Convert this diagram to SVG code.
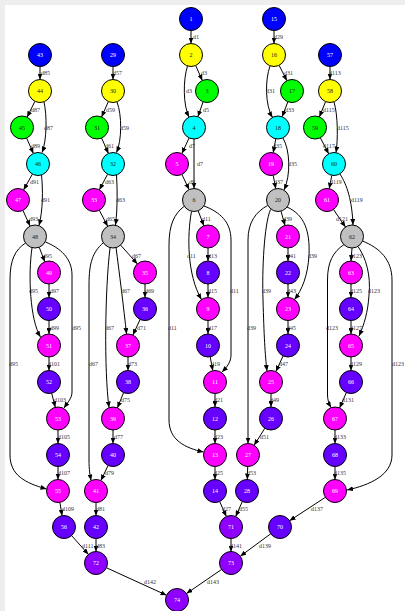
<svg xmlns="http://www.w3.org/2000/svg" width="405" height="611" viewBox="0 0 405 611">
<style>
  .node circle { stroke: #000; stroke-width: 1; }
  .blue { fill: #0000ff; }
  .yel { fill: #ffff00; }
  .grn { fill: #00ff00; }
  .cyan { fill: #00ffff; }
  .mag { fill: #ff00ff; }
  .gry { fill: #c0c0c0; }
  .vio { fill: #6600ff; }
  .pur { fill: #9000ff; }
  .node text { font-family: "Liberation Serif", "Times New Roman", serif; font-size: 6px; text-anchor: middle; }
  .lt { fill: #ffffff; }
  .dk { fill: #222222; }
  .edges path { fill: none; stroke: #000; stroke-width: 1; marker-end: url(#arr); }
  .lbl text { font-family: "Liberation Serif", "Times New Roman", serif; font-size: 6px; fill: #333333; }
</style>
<defs>
  <marker id="arr" markerUnits="userSpaceOnUse" markerWidth="6" markerHeight="5" refX="6" refY="2.5" orient="auto">
    <path d="M0,0 L6,2.5 L0,5 z" fill="#000"/>
  </marker>
</defs>
<rect x="0" y="0" width="405" height="611" fill="#eeeeee"/>
<rect x="5" y="5" width="400" height="606" fill="#ffffff"/>

<g class="edges">
  <!-- column 1..14 -->
  <path d="M191,30.5 L191,43.5"/>
  <path d="M195.7,65.5 L202.3,80.5"/>
  <path d="M187.5,66 C183,80 183,105 189,117"/>
  <path d="M203.1,101.8 L197.9,116.7"/>
  <path d="M189.1,137.9 L181.9,153.6"/>
  <path d="M194,139 L194,188.5"/>
  <path d="M181.9,174.4 L189.1,189.6"/>
  <path d="M198.1,210.7 L203.9,225.8"/>
  <path d="M191.5,211.5 C187,235 187,275 201.5,299.5"/>
  <path d="M204,206 C220,212 231,222 231,240 L231,355 C231,362 227,367 222,372"/>
  <path d="M184.5,206 C174,214 169,225 169,245 L169,420 C169,440 185,448 203.5,452"/>
  <path d="M208,248 L208,261"/>
  <path d="M208,284 L208,297.5"/>
  <path d="M208,320.5 L208,334"/>
  <path d="M210.2,356.8 L212.8,370.7"/>
  <path d="M215,393.5 L215,407"/>
  <path d="M215,430 L215,443.5"/>
  <path d="M215,466.5 L215,479.5"/>
  <path d="M219.7,501.5 L226.3,516.5"/>
  <!-- column 15..28 -->
  <path d="M274,30.5 L274,43.5"/>
  <path d="M279.1,65.3 L286.9,80.7"/>
  <path d="M270,66 C265,80 265,105 272.5,117.5"/>
  <path d="M287.9,101.7 L282.1,116.8"/>
  <path d="M275.8,138.8 L273.2,152.7"/>
  <path d="M283,138 C290,150 291,175 284,190"/>
  <path d="M273.2,175.3 L275.8,188.7"/>
  <path d="M281,211.1 L285,225.4"/>
  <path d="M287,207 C305,215 310,232 309,255 C308,275 302,290 294.5,299.5"/>
  <path d="M270.5,209.5 C264,225 262,270 263,300 C264,335 265,355 267,371"/>
  <path d="M267.5,205.5 C256,212 248,222 248,240 L248,443.5"/>
  <path d="M288,248 L288,261"/>
  <path d="M288,284 L288,297.5"/>
  <path d="M288,320.5 L288,334"/>
  <path d="M283.1,355.9 L275.9,371.6"/>
  <path d="M271,393.5 L271,407"/>
  <path d="M264.9,428.2 L254.1,445.3"/>
  <path d="M247.7,466.5 L247.3,479.5"/>
  <path d="M242.3,501.5 L235.7,516.5"/>
  <!-- column 29..42 -->
  <path d="M113,66.5 L113,79.5"/>
  <path d="M108.4,101.5 L101.6,117"/>
  <path d="M117,102 C122,115 122,140 116.5,152.5"/>
  <path d="M101.6,138 L108.4,153.5"/>
  <path d="M107.6,174.2 L99.4,189.8"/>
  <path d="M116.5,175 C117.5,190 117.5,210 115.5,225"/>
  <path d="M99.3,210.2 L107.7,226.3"/>
  <path d="M120.6,245.1 L137.4,263.9"/>
  <path d="M116,247.5 C119,270 124,310 126.5,334"/>
  <path d="M110,248 C105,290 104,370 109,407.5"/>
  <path d="M103,243 C93,252 89,262 89,285 L89,460 C89,470 90,475 91,480.5"/>
  <path d="M145,284 L145,297.5"/>
  <path d="M140.1,319.4 L132.9,335.1"/>
  <path d="M128,357 L128,370.5"/>
  <path d="M123.6,392.6 L117.4,407.9"/>
  <path d="M113,430 L113,443.5"/>
  <path d="M108.1,465.4 L100.9,480.6"/>
  <path d="M96,502.5 L96,515.5"/>
  <path d="M96,538.5 L96,551.5"/>
  <!-- column 43..56 -->
  <path d="M40,66.5 L40,79.5"/>
  <path d="M34.9,101.3 L27.1,117.2"/>
  <path d="M44,102 C47,115 47,140 42,152.5"/>
  <path d="M26.6,138 L33.4,153.5"/>
  <path d="M32.4,174.1 L23.6,189.9"/>
  <path d="M41.5,175 C43,190 43,210 39,225.5"/>
  <path d="M22.9,210.4 L30.1,226.1"/>
  <path d="M39.2,247.2 L44.8,261.8"/>
  <path d="M32,248 C28,275 30,320 40.5,337"/>
  <path d="M45.5,242 C60,248 72,258 72,275 L72,392 C72,398 68,402 64,408"/>
  <path d="M25.5,243 C15,250 10,260 10,280 L10,455 C10,475 25,483 46.5,489"/>
  <path d="M49,284 L49,297.5"/>
  <path d="M49,320.5 L49,334"/>
  <path d="M49,357 L49,370.5"/>
  <path d="M51.7,393.2 L55.3,407.3"/>
  <path d="M58,430 L58,443.5"/>
  <path d="M58,466.5 L58,479.5"/>
  <path d="M59.9,502.3 L62.1,515.7"/>
  <path d="M71.6,535.6 L88.4,554.4"/>
  <!-- column 57..70 -->
  <path d="M330,66.5 L330,79.5"/>
  <path d="M325.6,101.6 L319.4,116.9"/>
  <path d="M334,102 C338,115 338,140 336,152.5"/>
  <path d="M320.3,137.7 L328.7,153.8"/>
  <path d="M331.8,175.3 L329.2,188.7"/>
  <path d="M340,174 C347,185 352,200 353,225"/>
  <path d="M333.5,209.5 L345.5,227"/>
  <path d="M352,248 L351,261"/>
  <path d="M358,246.5 C366,258 371,275 369,295 C368,312 364,325 359,336"/>
  <path d="M344,244.5 C333,252 327.5,262 327.5,280 L327.5,395 C327.5,400 329,404 331,407.5"/>
  <path d="M362.5,241 C380,248 392,260 392,280 L392,455 C392,475 370,485 347,490"/>
  <path d="M351,284 L351,297.5"/>
  <path d="M351,320.5 L351,334"/>
  <path d="M351,357 L351,370.5"/>
  <path d="M346.4,392.5 L339.6,408"/>
  <path d="M335,430 L335,443.5"/>
  <path d="M335,466.5 L335,479.5"/>
  <path d="M325.4,497.3 L289.6,520.7"/>
  <!-- merge -->
  <path d="M231,538.5 L231,551.5"/>
  <path d="M270.7,533.8 L240.3,556.2"/>
  <path d="M221.5,569.5 L186.5,593.5"/>
  <path d="M106.5,567.8 L166.5,595.2"/>
</g>

<g id="n1" class="node"><circle class="blue" cx="191" cy="19" r="11.5"/><text class="lt" x="191" y="21">1</text></g>
<g id="n2" class="node"><circle class="yel" cx="191" cy="55" r="11.5"/><text class="dk" x="191" y="57">2</text></g>
<g id="n3" class="node"><circle class="grn" cx="207" cy="91" r="11.5"/><text class="dk" x="207" y="93">3</text></g>
<g id="n4" class="node"><circle class="cyan" cx="194" cy="127.5" r="11.5"/><text class="dk" x="194" y="129.5">4</text></g>
<g id="n5" class="node"><circle class="mag" cx="177" cy="164" r="11.5"/><text class="lt" x="177" y="166">5</text></g>
<g id="n6" class="node"><circle class="gry" cx="194" cy="200" r="11.5"/><text class="dk" x="194" y="202">6</text></g>
<g id="n7" class="node"><circle class="mag" cx="208" cy="236.5" r="11.5"/><text class="lt" x="208" y="238.5">7</text></g>
<g id="n8" class="node"><circle class="vio" cx="208" cy="272.5" r="11.5"/><text class="lt" x="208" y="274.5">8</text></g>
<g id="n9" class="node"><circle class="mag" cx="208" cy="309" r="11.5"/><text class="lt" x="208" y="311">9</text></g>
<g id="n10" class="node"><circle class="vio" cx="208" cy="345.5" r="11.5"/><text class="lt" x="208" y="347.5">10</text></g>
<g id="n11" class="node"><circle class="mag" cx="215" cy="382" r="11.5"/><text class="lt" x="215" y="384">11</text></g>
<g id="n12" class="node"><circle class="vio" cx="215" cy="418.5" r="11.5"/><text class="lt" x="215" y="420.5">12</text></g>
<g id="n13" class="node"><circle class="mag" cx="215" cy="455" r="11.5"/><text class="lt" x="215" y="457">13</text></g>
<g id="n14" class="node"><circle class="vio" cx="215" cy="491" r="11.5"/><text class="lt" x="215" y="493">14</text></g>

<g id="n15" class="node"><circle class="blue" cx="274" cy="19" r="11.5"/><text class="lt" x="274" y="21">15</text></g>
<g id="n16" class="node"><circle class="yel" cx="274" cy="55" r="11.5"/><text class="dk" x="274" y="57">16</text></g>
<g id="n17" class="node"><circle class="grn" cx="292" cy="91" r="11.5"/><text class="dk" x="292" y="93">17</text></g>
<g id="n18" class="node"><circle class="cyan" cx="278" cy="127.5" r="11.5"/><text class="dk" x="278" y="129.5">18</text></g>
<g id="n19" class="node"><circle class="mag" cx="271" cy="164" r="11.5"/><text class="lt" x="271" y="166">19</text></g>
<g id="n20" class="node"><circle class="gry" cx="278" cy="200" r="11.5"/><text class="dk" x="278" y="202">20</text></g>
<g id="n21" class="node"><circle class="mag" cx="288" cy="236.5" r="11.5"/><text class="lt" x="288" y="238.5">21</text></g>
<g id="n22" class="node"><circle class="vio" cx="288" cy="272.5" r="11.5"/><text class="lt" x="288" y="274.5">22</text></g>
<g id="n23" class="node"><circle class="mag" cx="288" cy="309" r="11.5"/><text class="lt" x="288" y="311">23</text></g>
<g id="n24" class="node"><circle class="vio" cx="288" cy="345.5" r="11.5"/><text class="lt" x="288" y="347.5">24</text></g>
<g id="n25" class="node"><circle class="mag" cx="271" cy="382" r="11.5"/><text class="lt" x="271" y="384">25</text></g>
<g id="n26" class="node"><circle class="vio" cx="271" cy="418.5" r="11.5"/><text class="lt" x="271" y="420.5">26</text></g>
<g id="n27" class="node"><circle class="mag" cx="248" cy="455" r="11.5"/><text class="lt" x="248" y="457">27</text></g>
<g id="n28" class="node"><circle class="vio" cx="247" cy="491" r="11.5"/><text class="lt" x="247" y="493">28</text></g>

<g id="n29" class="node"><circle class="blue" cx="113" cy="55" r="11.5"/><text class="lt" x="113" y="57">29</text></g>
<g id="n30" class="node"><circle class="yel" cx="113" cy="91" r="11.5"/><text class="dk" x="113" y="93">30</text></g>
<g id="n31" class="node"><circle class="grn" cx="97" cy="127.5" r="11.5"/><text class="dk" x="97" y="129.5">31</text></g>
<g id="n32" class="node"><circle class="cyan" cx="113" cy="164" r="11.5"/><text class="dk" x="113" y="166">32</text></g>
<g id="n33" class="node"><circle class="mag" cx="94" cy="200" r="11.5"/><text class="lt" x="94" y="202">33</text></g>
<g id="n34" class="node"><circle class="gry" cx="113" cy="236.5" r="11.5"/><text class="dk" x="113" y="238.5">34</text></g>
<g id="n35" class="node"><circle class="mag" cx="145" cy="272.5" r="11.5"/><text class="lt" x="145" y="274.5">35</text></g>
<g id="n36" class="node"><circle class="vio" cx="145" cy="309" r="11.5"/><text class="lt" x="145" y="311">36</text></g>
<g id="n37" class="node"><circle class="mag" cx="128" cy="345.5" r="11.5"/><text class="lt" x="128" y="347.5">37</text></g>
<g id="n38" class="node"><circle class="vio" cx="128" cy="382" r="11.5"/><text class="lt" x="128" y="384">38</text></g>
<g id="n39" class="node"><circle class="mag" cx="113" cy="418.5" r="11.5"/><text class="lt" x="113" y="420.5">39</text></g>
<g id="n40" class="node"><circle class="vio" cx="113" cy="455" r="11.5"/><text class="lt" x="113" y="457">40</text></g>
<g id="n41" class="node"><circle class="mag" cx="96" cy="491" r="11.5"/><text class="lt" x="96" y="493">41</text></g>
<g id="n42" class="node"><circle class="vio" cx="96" cy="527" r="11.5"/><text class="lt" x="96" y="529">42</text></g>

<g id="n43" class="node"><circle class="blue" cx="40" cy="55" r="11.5"/><text class="lt" x="40" y="57">43</text></g>
<g id="n44" class="node"><circle class="yel" cx="40" cy="91" r="11.5"/><text class="dk" x="40" y="93">44</text></g>
<g id="n45" class="node"><circle class="grn" cx="22" cy="127.5" r="11.5"/><text class="dk" x="22" y="129.5">45</text></g>
<g id="n46" class="node"><circle class="cyan" cx="38" cy="164" r="11.5"/><text class="dk" x="38" y="166">46</text></g>
<g id="n47" class="node"><circle class="mag" cx="18" cy="200" r="11.5"/><text class="lt" x="18" y="202">47</text></g>
<g id="n48" class="node"><circle class="gry" cx="35" cy="236.5" r="11.5"/><text class="dk" x="35" y="238.5">48</text></g>
<g id="n49" class="node"><circle class="mag" cx="49" cy="272.5" r="11.5"/><text class="lt" x="49" y="274.5">49</text></g>
<g id="n50" class="node"><circle class="vio" cx="49" cy="309" r="11.5"/><text class="lt" x="49" y="311">50</text></g>
<g id="n51" class="node"><circle class="mag" cx="49" cy="345.5" r="11.5"/><text class="lt" x="49" y="347.5">51</text></g>
<g id="n52" class="node"><circle class="vio" cx="49" cy="382" r="11.5"/><text class="lt" x="49" y="384">52</text></g>
<g id="n53" class="node"><circle class="mag" cx="58" cy="418.5" r="11.5"/><text class="lt" x="58" y="420.5">53</text></g>
<g id="n54" class="node"><circle class="vio" cx="58" cy="455" r="11.5"/><text class="lt" x="58" y="457">54</text></g>
<g id="n55" class="node"><circle class="mag" cx="58" cy="491" r="11.5"/><text class="lt" x="58" y="493">55</text></g>
<g id="n56" class="node"><circle class="vio" cx="64" cy="527" r="11.5"/><text class="lt" x="64" y="529">56</text></g>

<g id="n57" class="node"><circle class="blue" cx="330" cy="55" r="11.5"/><text class="lt" x="330" y="57">57</text></g>
<g id="n58" class="node"><circle class="yel" cx="330" cy="91" r="11.5"/><text class="dk" x="330" y="93">58</text></g>
<g id="n59" class="node"><circle class="grn" cx="315" cy="127.5" r="11.5"/><text class="dk" x="315" y="129.5">59</text></g>
<g id="n60" class="node"><circle class="cyan" cx="334" cy="164" r="11.5"/><text class="dk" x="334" y="166">60</text></g>
<g id="n61" class="node"><circle class="mag" cx="327" cy="200" r="11.5"/><text class="lt" x="327" y="202">61</text></g>
<g id="n62" class="node"><circle class="gry" cx="352" cy="236.5" r="11.5"/><text class="dk" x="352" y="238.5">62</text></g>
<g id="n63" class="node"><circle class="mag" cx="351" cy="272.5" r="11.5"/><text class="lt" x="351" y="274.5">63</text></g>
<g id="n64" class="node"><circle class="vio" cx="351" cy="309" r="11.5"/><text class="lt" x="351" y="311">64</text></g>
<g id="n65" class="node"><circle class="mag" cx="351" cy="345.5" r="11.5"/><text class="lt" x="351" y="347.5">65</text></g>
<g id="n66" class="node"><circle class="vio" cx="351" cy="382" r="11.5"/><text class="lt" x="351" y="384">66</text></g>
<g id="n67" class="node"><circle class="mag" cx="335" cy="418.5" r="11.5"/><text class="lt" x="335" y="420.5">67</text></g>
<g id="n68" class="node"><circle class="vio" cx="335" cy="455" r="11.5"/><text class="lt" x="335" y="457">68</text></g>
<g id="n69" class="node"><circle class="mag" cx="335" cy="491" r="11.5"/><text class="lt" x="335" y="493">69</text></g>
<g id="n70" class="node"><circle class="vio" cx="280" cy="527" r="11.5"/><text class="lt" x="280" y="529">70</text></g>

<g id="n71" class="node"><circle class="pur" cx="231" cy="527" r="11.5"/><text class="lt" x="231" y="529">71</text></g>
<g id="n72" class="node"><circle class="pur" cx="96" cy="563" r="11.5"/><text class="lt" x="96" y="565">72</text></g>
<g id="n73" class="node"><circle class="pur" cx="231" cy="563" r="11.5"/><text class="lt" x="231" y="565">73</text></g>
<g id="n74" class="node"><circle class="pur" cx="177" cy="600" r="11.5"/><text class="lt" x="177" y="602">74</text></g>

<!-- edge labels, drawn above the nodes -->
<g class="lbl">
  <text x="193" y="38.5">d1</text>
  <text x="201" y="75">d3</text>
  <text x="186" y="93">d3</text>
  <text x="203" y="112">d5</text>
  <text x="189" y="148">d7</text>
  <text x="197" y="166">d7</text>
  <text x="189" y="184">d9</text>
  <text x="202" y="221">d11</text>
  <text x="208" y="257.5">d13</text>
  <text x="187" y="257.5">d11</text>
  <text x="208" y="293">d15</text>
  <text x="230" y="293">d11</text>
  <text x="208" y="330">d17</text>
  <text x="168" y="330">d11</text>
  <text x="211" y="366">d19</text>
  <text x="214" y="402">d21</text>
  <text x="214" y="439">d23</text>
  <text x="214" y="475">d25</text>
  <text x="222" y="511">d27</text>

  <text x="274" y="38.5">d29</text>
  <text x="284" y="75">d31</text>
  <text x="266" y="93">d31</text>
  <text x="285" y="112">d33</text>
  <text x="273" y="148">d35</text>
  <text x="288" y="166">d35</text>
  <text x="274" y="184">d37</text>
  <text x="283" y="221">d39</text>
  <text x="287" y="257.5">d41</text>
  <text x="308" y="257.5">d39</text>
  <text x="287" y="293">d43</text>
  <text x="262" y="293">d39</text>
  <text x="287" y="330">d45</text>
  <text x="247" y="330">d39</text>
  <text x="279" y="366">d47</text>
  <text x="270" y="402">d49</text>
  <text x="260" y="439">d51</text>
  <text x="247" y="475">d53</text>
  <text x="239" y="511">d55</text>

  <text x="113" y="75">d57</text>
  <text x="106" y="112">d59</text>
  <text x="120" y="130">d59</text>
  <text x="105" y="148">d61</text>
  <text x="105" y="184">d63</text>
  <text x="116" y="202">d63</text>
  <text x="106" y="221">d65</text>
  <text x="132" y="257.5">d67</text>
  <text x="121" y="293">d67</text>
  <text x="145" y="293">d69</text>
  <text x="105" y="330">d67</text>
  <text x="137" y="330">d71</text>
  <text x="89" y="366">d67</text>
  <text x="128" y="366">d73</text>
  <text x="121" y="402">d75</text>
  <text x="114" y="439">d77</text>
  <text x="105" y="475">d79</text>
  <text x="96" y="511">d81</text>
  <text x="96" y="548">d83</text>

  <text x="41" y="75">d85</text>
  <text x="31" y="112">d87</text>
  <text x="44" y="130">d87</text>
  <text x="31" y="148">d89</text>
  <text x="30" y="184">d91</text>
  <text x="41" y="202">d91</text>
  <text x="29" y="221">d93</text>
  <text x="43" y="257.5">d95</text>
  <text x="29" y="293">d95</text>
  <text x="50" y="293">d97</text>
  <text x="50" y="330">d99</text>
  <text x="72" y="330">d95</text>
  <text x="9" y="366">d95</text>
  <text x="48" y="366">d101</text>
  <text x="54" y="402">d103</text>
  <text x="58" y="439">d105</text>
  <text x="58" y="475">d107</text>
  <text x="62" y="511">d109</text>
  <text x="82" y="548">d111</text>

  <text x="329" y="75">d113</text>
  <text x="323" y="112">d115</text>
  <text x="337" y="130">d115</text>
  <text x="323" y="148">d117</text>
  <text x="330" y="184">d119</text>
  <text x="351" y="202">d119</text>
  <text x="336" y="221">d121</text>
  <text x="350" y="257.5">d123</text>
  <text x="350" y="293">d125</text>
  <text x="368" y="293">d123</text>
  <text x="326" y="330">d123</text>
  <text x="350" y="330">d127</text>
  <text x="350" y="366">d129</text>
  <text x="392" y="366">d123</text>
  <text x="342" y="402">d131</text>
  <text x="334" y="439">d133</text>
  <text x="334" y="475">d135</text>
  <text x="311" y="511">d137</text>

  <text x="259" y="548">d139</text>
  <text x="230" y="548">d141</text>
  <text x="144" y="584">d142</text>
  <text x="207" y="584">d143</text>
</g>
</svg>
